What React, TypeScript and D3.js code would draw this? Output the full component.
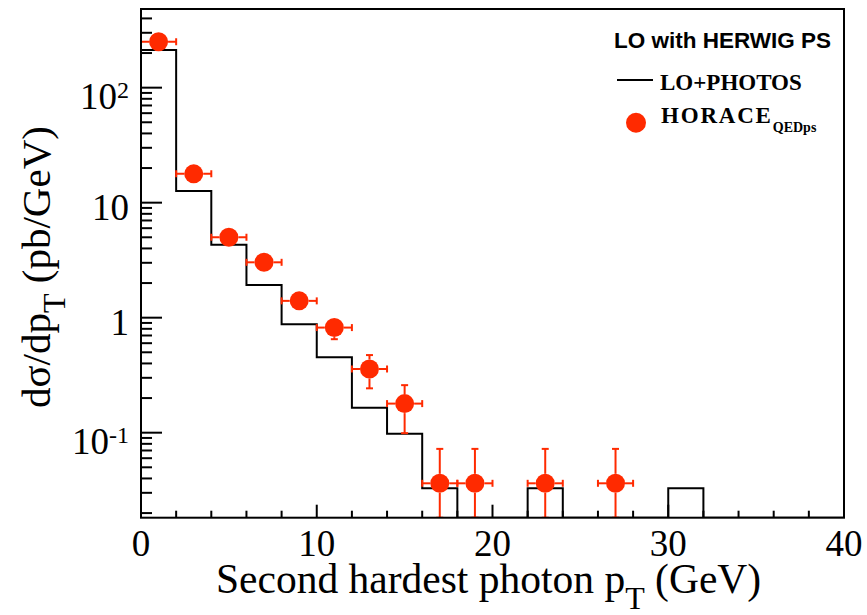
import React from 'react';
import * as d3 from 'd3';

const binEdges = [0, 2, 4, 6, 8, 10, 12, 14, 16, 18, 20, 22, 24, 26, 28, 30, 32, 34, 36, 38, 40];
const loPhotos = [213, 12.6, 4.3, 1.92, 0.877, 0.453, 0.165, 0.098, 0.0329, 0, 0, 0.0329, 0, 0, 0, 0.0329, 0, 0, 0, 0];
const horaceX = [1, 3, 5, 7, 9, 11, 13, 15, 17, 19, 23, 27];
const horaceY = [251, 17.8, 5.0, 3.03, 1.4, 0.82, 0.358, 0.179, 0.0363, 0.0363, 0.0363, 0.0363];
const horaceErrY = [3, 0.5, 0.25, 0.3, 0.2, 0.17, 0.115, 0.08, 0.036, 0.036, 0.036, 0.036];
const horaceErrX = [1, 1, 1, 1, 1, 1, 1, 1, 1, 1, 1, 1];
const xTickMajor = [0, 10, 20, 30, 40];
const xTickLabels = ['0', '10', '20', '30', '40'];
const yTickValues = [0.1, 1, 10, 100];
const yTickBase = ['10', '1', '10', '10'];
const yTickSup = ['-1', '', '', '2'];

const W = 867, H = 615;
const L = 141, R = 844, T = 9, B = 517.7;
const RED = '#ff2a00';

export default function App() {
  const x = d3.scaleLinear().domain([0, 40]).range([L, R]);
  const yMin = 0.01823, yMax = 483;
  const y = d3.scaleLog().domain([yMin, yMax]).range([B, T]).clamp(true);
  const yv = (v: number) => (v <= 0 ? B : y(v));

  const pts: [number, number][] = [[x(0), B]];
  loPhotos.forEach((v, i) => {
    pts.push([x(binEdges[i]), yv(v)]);
    pts.push([x(binEdges[i + 1]), yv(v)]);
  });
  pts.push([x(40), B]);
  const histPath = d3.line()(pts) as string;

  const yMinor: { v: number; major: boolean }[] = [];
  for (let d = -2; d <= 2; d++) {
    for (let k = 1; k <= 9; k++) {
      const v = k * Math.pow(10, d);
      if (v >= yMin && v <= yMax) yMinor.push({ v, major: k === 1 });
    }
  }
  const xMinor = d3.range(0, 41, 2);

  const serif = '"Liberation Serif", "DejaVu Serif", serif';
  const sans = '"Liberation Sans", Arial, sans-serif';

  return (
    <svg width={W} height={H} style={{ position: 'absolute', left: 0, top: 0, background: '#fff' }}>
      <defs>
        <clipPath id="plotclip">
          <rect x={L} y={T} width={R - L} height={B - T} />
        </clipPath>
      </defs>
      <rect x={0} y={0} width={W} height={H} fill="#fff" />
      {/* histogram */}
      <path d={histPath} fill="none" stroke="#000" strokeWidth={2} clipPath="url(#plotclip)" />
      {/* HORACE points */}
      <g clipPath="url(#plotclip)" stroke={RED} strokeWidth={2}>
        {horaceX.map((cx, i) => {
          const px = x(cx);
          const py = y(horaceY[i]);
          const x0 = x(cx - horaceErrX[i]);
          const x1 = x(cx + horaceErrX[i]);
          const yTop = y(horaceY[i] + horaceErrY[i]);
          const lo = horaceY[i] - horaceErrY[i];
          const yBot = lo <= 0 ? B + 5 : y(lo);
          const r = 9.5;
          const c = 3.5;
          return (
            <g key={i}>
              <line x1={x0} x2={px - r} y1={py} y2={py} />
              <line x1={px + r} x2={x1} y1={py} y2={py} />
              <line x1={x0} x2={x0} y1={py - c} y2={py + c} />
              <line x1={x1} x2={x1} y1={py - c} y2={py + c} />
              {py - yTop > r && (
                <>
                  <line x1={px} x2={px} y1={py - r} y2={yTop} />
                  <line x1={px - c} x2={px + c} y1={yTop} y2={yTop} />
                </>
              )}
              {yBot - py > r && (
                <>
                  <line x1={px} x2={px} y1={py + r} y2={yBot} />
                  <line x1={px - c} x2={px + c} y1={yBot} y2={yBot} />
                </>
              )}
              <circle cx={px} cy={py} r={r} fill={RED} stroke="none" />
            </g>
          );
        })}
      </g>
      {/* frame */}
      <rect x={L} y={T} width={R - L} height={B - T} fill="none" stroke="#000" strokeWidth={2} />
      {/* y ticks */}
      {yMinor.map((t, i) => (
        <line key={'yt' + i} x1={L} x2={L + (t.major ? 21 : 11)} y1={y(t.v)} y2={y(t.v)} stroke="#000" strokeWidth={2} />
      ))}
      {/* x ticks */}
      {xMinor.map((v, i) => (
        <line key={'xt' + i} x1={x(v)} x2={x(v)} y1={B} y2={B - (v % 10 === 0 ? 13 : 7)} stroke="#000" strokeWidth={2} />
      ))}
      {/* x tick labels */}
      {xTickMajor.map((v, i) => (
        <text key={'xl' + i} x={x(v)} y={556} textAnchor="middle" fontFamily={serif} fontSize={37} fill="#000">
          {xTickLabels[i]}
        </text>
      ))}
      {/* y tick labels */}
      {yTickValues.map((v, i) => (
        <text key={'yl' + i} x={129} y={y(v) + (yTickSup[i] ? 21 : 17.4)} textAnchor="end" fontFamily={serif} fontSize={37} fill="#000">
          {yTickBase[i]}
          {yTickSup[i] && (
            <tspan fontSize={24} dy={-11}>{yTickSup[i]}</tspan>
          )}
        </text>
      ))}
      {/* axis titles */}
      <text x={216} y={593} fontFamily={serif} fontSize={41.5} fill="#000">
        Second hardest photon p<tspan fontSize={32} dy={16}>T</tspan><tspan dy={-16}> (GeV)</tspan>
      </text>
      <text transform="translate(50,408) rotate(-90)" fontFamily={serif} fontSize={41} fill="#000">
        dσ/dp<tspan fontSize={32} dy={15}>T</tspan><tspan dy={-15}> (pb/GeV)</tspan>
      </text>
      {/* legend */}
      <text x={614} y={48} fontFamily={sans} fontWeight="bold" fontSize={22.5} fill="#000">LO with HERWIG PS</text>
      <line x1={617} x2={653} y1={80} y2={80} stroke="#000" strokeWidth={2} />
      <text x={660} y={90} fontFamily={serif} fontWeight="bold" fontSize={23} fill="#000">LO+PHOTOS</text>
      <circle cx={636} cy={122.7} r={10} fill={RED} />
      <text x={661} y={123} fontFamily={serif} fontWeight="bold" fontSize={23} fill="#000">
        <tspan letterSpacing={1.8}>HORACE</tspan><tspan fontSize={14} dy={9}>QEDps</tspan>
      </text>
    </svg>
  );
}
